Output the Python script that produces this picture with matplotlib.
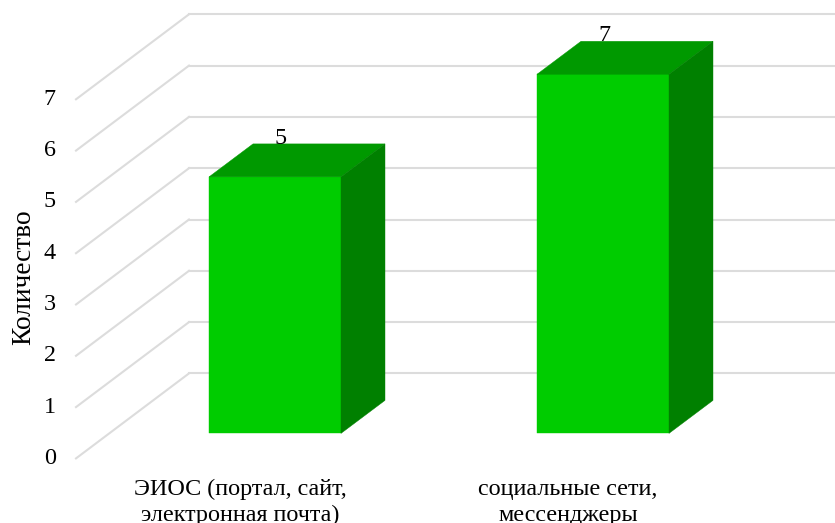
import matplotlib
matplotlib.use("Agg")
import matplotlib.pyplot as plt
from matplotlib.patches import Polygon

categories = ["ЭИОС (портал, сайт,\nэлектронная почта)", "социальные сети,\nмессенджеры"]
values = [5, 7]
y_ticks = [0, 1, 2, 3, 4, 5, 6, 7]
y_title = "Количество"

W, H = 835, 523
plt.rcParams['font.family'] = ['Liberation Serif', 'DejaVu Sans']
fig = plt.figure(figsize=(W / 100, H / 100), dpi=100)

# front plane of the 3D box in pixels
L, R, Y0, Y7 = 76, 732, 458.4, 99.3
ax = fig.add_axes([L / W, 1 - Y0 / H, (R - L) / W, (Y0 - Y7) / H])
ax.set_xlim(0, 2)
ax.set_ylim(0, 7)
ax.patch.set_visible(False)
for s in ax.spines.values():
    s.set_visible(False)

ux = (R - L) / 2      # px per category
uy = (Y0 - Y7) / 7    # px per value unit
def dx(px): return px / ux
def dy(px): return px / uy

DEPTH = (113, 85)
grid_c = "#dcdcdc"
for t in y_ticks:
    ax.plot([0, dx(DEPTH[0])], [t, t + dy(DEPTH[1])], color=grid_c, lw=1.5, clip_on=False, zorder=1)
    ax.plot([dx(DEPTH[0]), 2 + dx(DEPTH[0])], [t + dy(DEPTH[1])] * 2, color=grid_c, lw=1.5, clip_on=False, zorder=1)

off = (35, 25)
bw = dx(132)
bd = (44, 33)
label_shift = [6, 1]
FRONT, TOP, SIDE = "#00cc00", "#009900", "#008000"
for i, v in enumerate(values):
    x0 = i + 0.5 + dx(off[0]) - bw / 2
    x1 = x0 + bw
    base = dy(off[1])
    top = base + v
    ddx, ddy = dx(bd[0]), dy(bd[1])
    for pts, c in [
        ([(x0, base), (x1, base), (x1, top), (x0, top)], FRONT),
        ([(x0, top), (x1, top), (x1 + ddx, top + ddy), (x0 + ddx, top + ddy)], TOP),
        ([(x1, base), (x1 + ddx, base + ddy), (x1 + ddx, top + ddy), (x1, top)], SIDE),
    ]:
        ax.add_patch(Polygon(pts, closed=True, fc=c, ec=c, lw=0.3, clip_on=False, zorder=3))
    ax.text((x0 + x1) / 2 + dx(label_shift[i]), top + ddy + dy(5.5), str(v), ha="center", va="center",
            fontsize=17.4, color="black", clip_on=False, zorder=4)

ax.set_yticks(y_ticks)
ax.set_yticklabels([str(t) for t in y_ticks], fontsize=17.4, va="center")
ax.set_xticks([0.5, 1.5])
ax.set_xticklabels(categories, fontsize=17.4, linespacing=1.32)
ax.tick_params(axis="both", length=0)
ax.tick_params(axis="y", pad=14.5)
ax.tick_params(axis="x", pad=14.5)
fig.text(23.5 / W, 1 - 277 / H, y_title, rotation=90, ha="center", va="center", fontsize=19.7)

fig.savefig("out.png", dpi=100)
